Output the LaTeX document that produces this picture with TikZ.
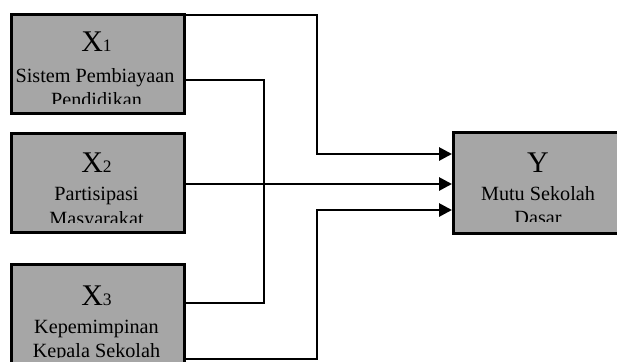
\documentclass[tikz,border=0pt]{standalone}
\usepackage{fontspec}
\setmainfont{Liberation Serif}
\usetikzlibrary{calc,arrows.meta}
\definecolor{boxgray}{HTML}{A6A6A6}
\begin{document}
\begin{tikzpicture}[x=1pt,y=-1pt,
  box/.style={draw=black, line width=3pt, fill=boxgray, minimum width=173pt,
    minimum height=99pt, inner sep=0pt, anchor=north west},
  conn/.style={line width=2.8pt},
  arr/.style={conn, -{Triangle[length=13pt,width=13pt]}},
  big/.style={font=\fontsize{30}{30}\selectfont, anchor=base, inner sep=0pt},
  txt/.style={font=\fontsize{20.2}{24}\selectfont, anchor=base, inner sep=0pt},
]
\useasboundingbox (0,0) rectangle (617,361);
\newcommand{\subdig}[1]{{\fontsize{17.5}{17.5}\selectfont #1}}

% boxes
\node[box] (x1) at (10,13) {};
\node[box] (x2) at (10,132) {};
\node[box] (x3) at (10,263) {};
\node[box, minimum width=172pt, minimum height=101pt] (y) at (452,131) {};

% texts (clipped inside boxes)
\begin{scope}
\clip (12,15) rectangle (181,103);
\node[big] (x1a) at (96.5,52) {X\subdig{1}};
\node[txt] (x1b) at (95,82) {Sistem Pembiayaan};
\node[txt] (x1c) at (96.5,106) {Pendidikan};
\end{scope}
\begin{scope}
\clip (12,134) rectangle (181,222);
\node[big] (x2a) at (96.5,172) {X\subdig{2}};
\node[txt] (x2b) at (96.5,200) {Partisipasi};
\node[txt] (x2c) at (96.5,225) {Masyarakat};
\end{scope}
\begin{scope}
\clip (12,265) rectangle (181,357);
\node[big] (x3a) at (96.5,305) {X\subdig{3}};
\node[txt] (x3b) at (96.5,333) {Kepemimpinan};
\node[txt] (x3c) at (96.5,357) {Kepala Sekolah};
\end{scope}
\begin{scope}
\clip (454,133) rectangle (620,221);
\node[big] (ya) at (538,172) {Y};
\node[txt] (yb) at (538,200) {Mutu Sekolah};
\node[txt] (yc) at (538,224) {Dasar};
\end{scope}

% connectors
\draw[arr] (x1.east |- 0,15) -- (317,15) |- (y.west |- 0,154);
\draw[arr] (x2.east |- 0,184) -- (y.west |- 0,184);
\draw[arr] (x3.east |- 0,359) -- (317,359) |- (y.west |- 0,210);
\draw[conn] (x1.east |- 0,80) -- (264,80) |- (x3.east |- 0,303);
\end{tikzpicture}
\end{document}
